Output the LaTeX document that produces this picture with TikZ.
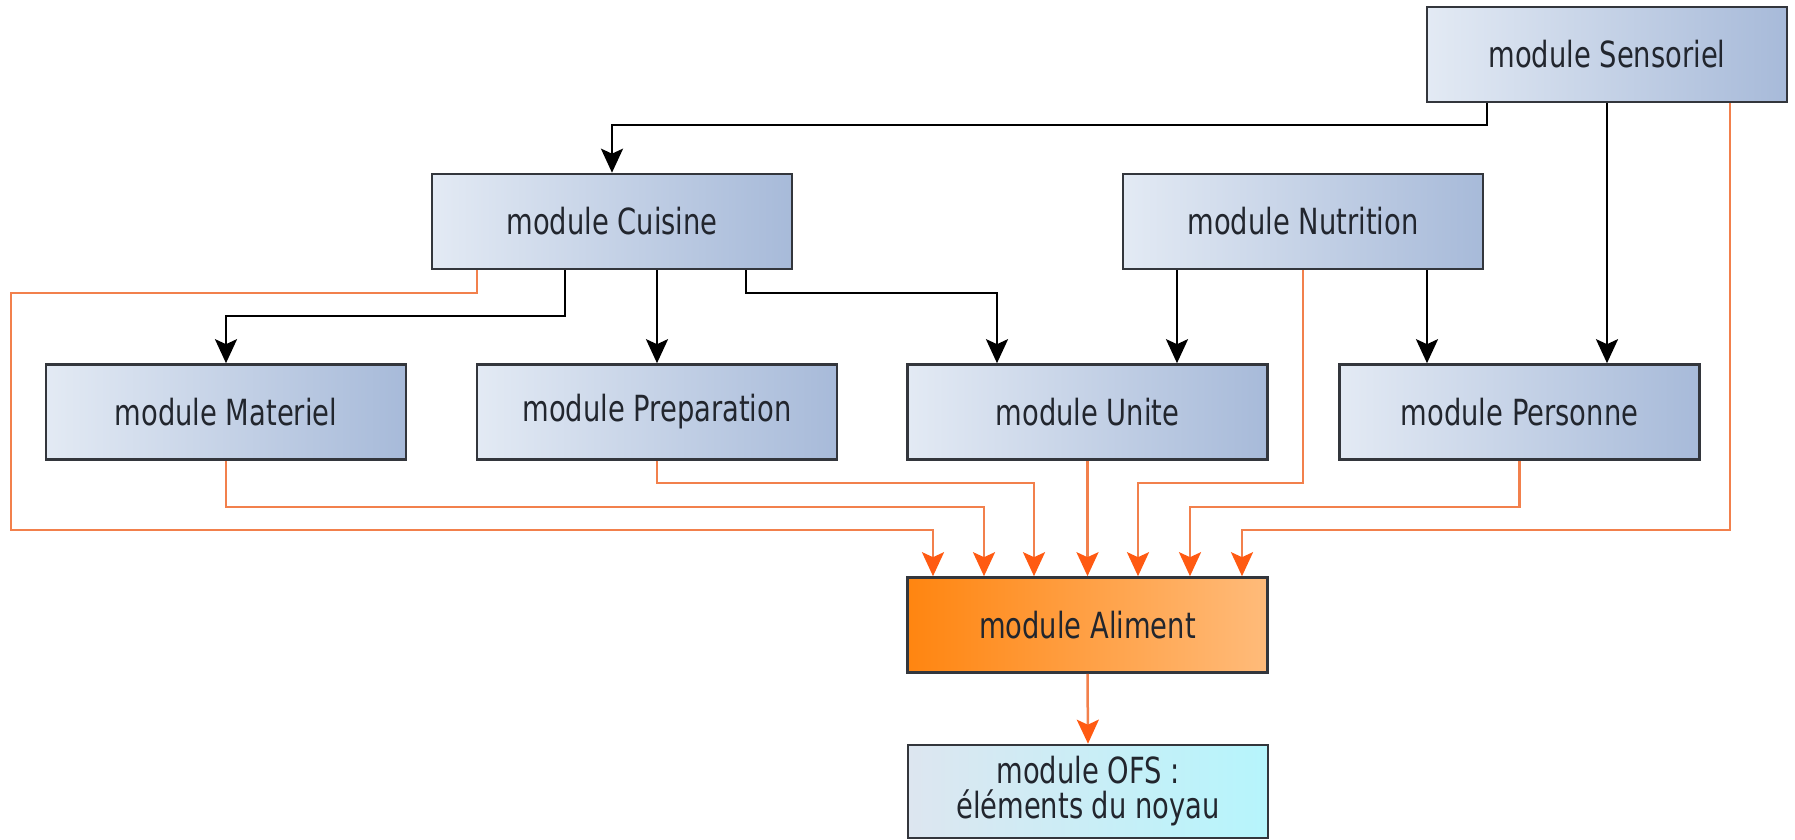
\documentclass[tikz,border=0pt]{standalone}
\usepackage{fontspec}
\setmainfont{DejaVu Sans}[FakeStretch=0.76]
\usepackage{tikz}
\usetikzlibrary{arrows.meta,positioning,calc}
\definecolor{ink}{HTML}{22262E}
\definecolor{frame}{HTML}{33363C}
\definecolor{blueL}{HTML}{E3EAF4}
\definecolor{blueR}{HTML}{A7BAD9}
\definecolor{alimL}{HTML}{FF8510}
\definecolor{alimR}{HTML}{FFBB7A}
\definecolor{ofsL}{HTML}{DDE6F0}
\definecolor{ofsR}{HTML}{B6F5FC}
\definecolor{feedline}{HTML}{F2804C}
\definecolor{feedtip}{HTML}{FF5A12}
\tikzset{
  module/.style={draw=frame, line width=1.3pt, left color=blueL, right color=blueR,
                 minimum width=180pt, minimum height=47.5pt, inner sep=0pt,
                 align=center, text=ink, font=\fontsize{18}{17.5}\selectfont},
  dep/.style={-{Stealth[length=12pt,width=11pt,inset=2.5pt]}, line width=1.3pt, draw=black},
  feed/.style={-{Stealth[length=12pt,width=11pt,inset=2.5pt,color=feedtip]},
               line width=1.25pt, draw=feedline}
}

\begin{document}
\begin{tikzpicture}[x=0.5pt,y=-0.5pt]
    \useasboundingbox (0,0) rectangle (1795,840);
    % ===== modules =====
    \node[module] (sens) at (1607,54.5) {module Sensoriel};
    \node[module] (cuis) at (612,221.5) {module Cuisine};
    \node[module] (nutr) at (1303,221.5) {module Nutrition};
    \node[module] (mat) at (226,412) {module Materiel};
    \node[module] (prep) at (657,412) {module Preparation};
    \node[module] (unit) at (1087.5,412) {module Unite};
    \node[module] (pers) at (1519.5,412) {module Personne};
    \node[module, left color=alimL, right color=alimR] (alim) at (1087.5,625) {module Aliment};
    \node[module, left color=ofsL, right color=ofsR, minimum height=46.5pt] (ofs) at (1088,791.5)
      {module OFS :\\éléments du noyau};

    % ===== black dependencies =====
    \draw[dep] (sens.south -| 1487,0) -- (1487,125) -| (cuis.north);
    \draw[dep] (sens.south) -- (sens.south |- pers.north);
    \draw[dep] (cuis.south -| 565,0) -- (565,316) -| (mat.north);
    \draw[dep] (cuis.south -| prep.north) -- (prep.north);
    \draw[dep] (cuis.south -| 746,0) -- (746,293) -| (unit.north -| 997,0);
    \draw[dep] (nutr.south -| 1177,0) -- (unit.north -| 1177,0);
    \draw[dep] (nutr.south -| 1427,0) -- (pers.north -| 1427,0);

    % ===== orange links into Aliment =====
    \draw[feed] (cuis.south -| 477,0) -- (477,293) -- (11,293) -- (11,530) -| (alim.north -| 933,0);
    \draw[feed] (mat.south) -- (mat.south |- 0,507) -| (alim.north -| 984,0);
    \draw[feed] (prep.south) -- (prep.south |- 0,483) -| (alim.north -| 1034,0);
    \draw[feed] (unit.south) -- (alim.north);
    \draw[feed] (nutr.south) -- (nutr.south |- 0,483) -| (alim.north -| 1138,0);
    \draw[feed] (pers.south) -- (pers.south |- 0,507) -| (alim.north -| 1190,0);
    \draw[feed] (sens.south -| 1730,0) -- (1730,530) -| (alim.north -| 1242,0);
    \draw[feed] (alim.south) -- (ofs.north);
\end{tikzpicture}
\end{document}
